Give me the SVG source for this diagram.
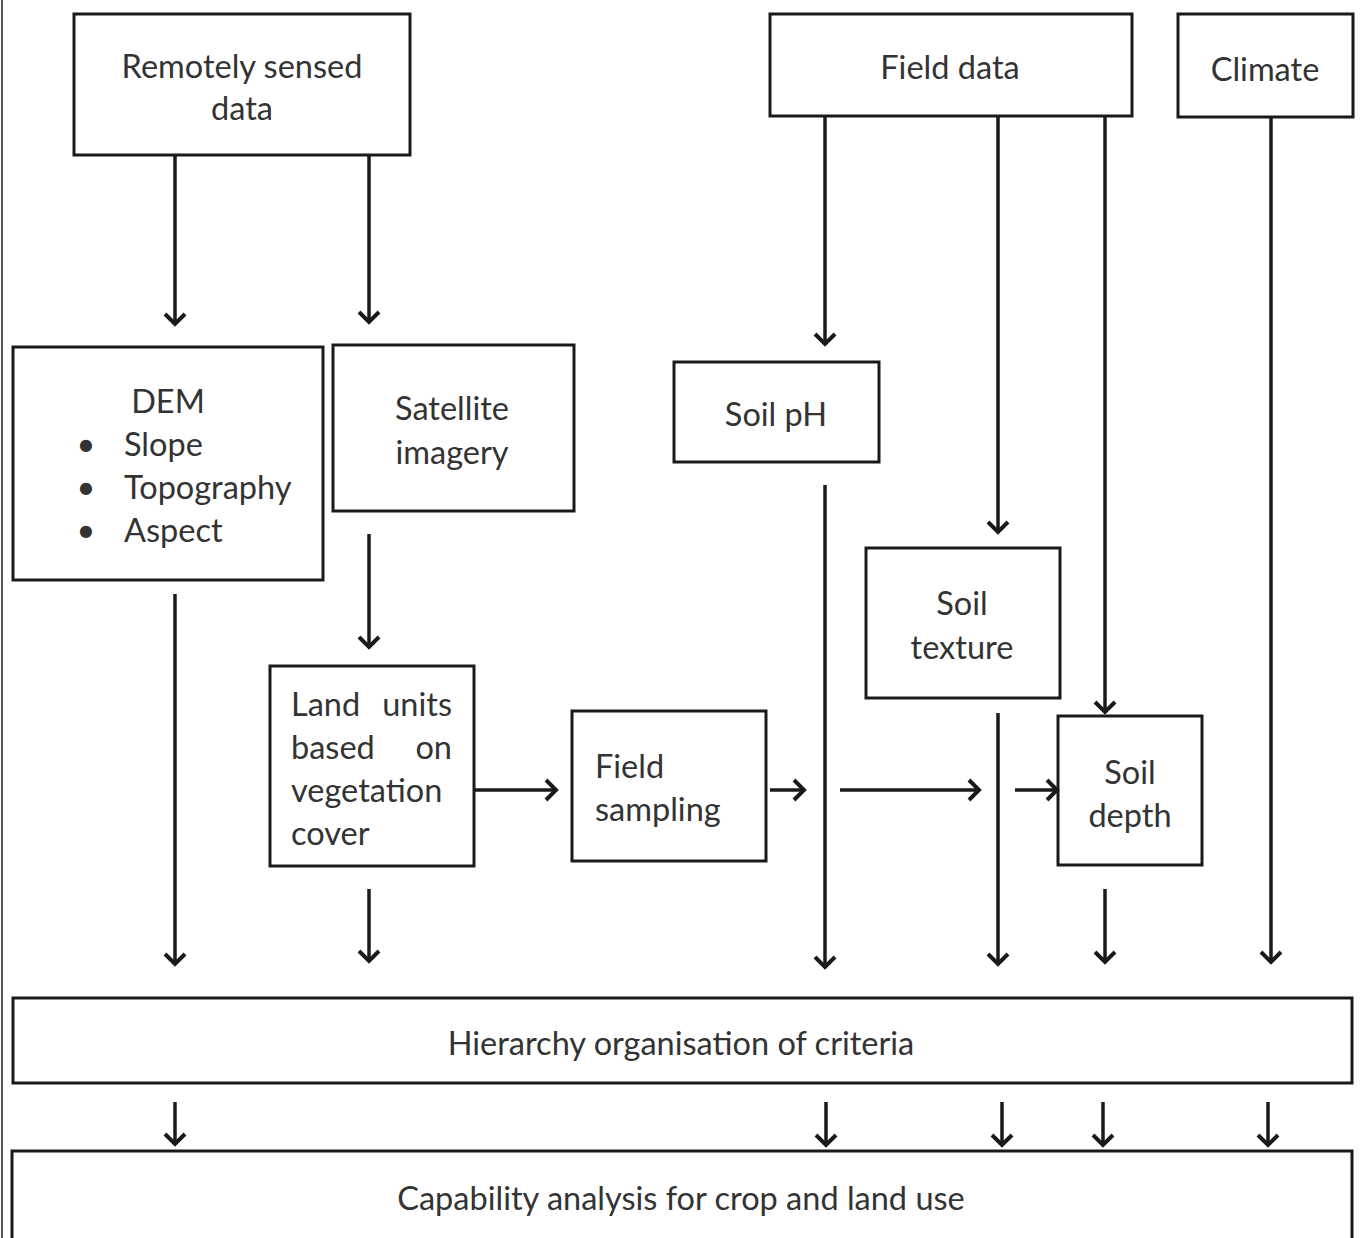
<svg xmlns="http://www.w3.org/2000/svg" width="1363" height="1238" viewBox="0 0 1363 1238">
<style>
.box{fill:#fff;stroke:#1a1a1a;stroke-width:3}
.t{font-family:Lato,"Open Sans",sans-serif;font-size:32.5px;fill:#333;text-anchor:middle;dominant-baseline:central}
.l{text-anchor:start}
.r{text-anchor:end}
.c{fill:none;stroke:#1a1a1a;stroke-width:3.5}
</style>
<defs>
<marker id="ah" markerWidth="26" markerHeight="26" refX="21" refY="13" orient="auto" markerUnits="userSpaceOnUse">
<path d="M10 3 L20 13 L10 23" fill="none" stroke="#1a1a1a" stroke-width="4"/>
</marker>
</defs>
<rect x="0" y="0" width="1363" height="1238" fill="#fff"/>
<line x1="2" y1="0" x2="2" y2="1238" stroke="#555" stroke-width="2"/>
<g id="remote"><rect class="box" x="74" y="14" width="336" height="141"/><text class="t" x="242" y="65">Remotely sensed</text><text class="t" x="242" y="107">data</text></g>
<g id="field"><rect class="box" x="770" y="14" width="362" height="102"/><text class="t" x="950" y="66">Field data</text></g>
<g id="climate"><rect class="box" x="1178" y="14" width="175" height="103"/><text class="t" x="1265" y="68">Climate</text></g>
<g id="dem"><rect class="box" x="13" y="347" width="310" height="233"/><text class="t" x="168" y="400">DEM</text>
<text class="t" x="86" y="443">•</text><text class="t l" x="124" y="443">Slope</text>
<text class="t" x="86" y="486">•</text><text class="t l" x="124" y="486">Topography</text>
<text class="t" x="86" y="529">•</text><text class="t l" x="124" y="529">Aspect</text></g>
<g id="sat"><rect class="box" x="333" y="345" width="241" height="166"/><text class="t" x="452" y="407">Satellite</text><text class="t" x="452" y="451">imagery</text></g>
<g id="ph"><rect class="box" x="674" y="362" width="205" height="100"/><text class="t" x="776" y="413">Soil pH</text></g>
<g id="texture"><rect class="box" x="866" y="548" width="194" height="150"/><text class="t" x="962" y="602">Soil</text><text class="t" x="962" y="646">texture</text></g>
<g id="depth"><rect class="box" x="1058" y="716" width="144" height="149"/><text class="t" x="1130" y="771">Soil</text><text class="t" x="1130" y="814">depth</text></g>
<g id="land"><rect class="box" x="270" y="666" width="204" height="200"/>
<text class="t l" x="291" y="703">Land</text><text class="t r" x="452" y="703">units</text>
<text class="t l" x="291" y="746">based</text><text class="t r" x="452" y="746">on</text>
<text class="t l" x="291" y="789">vegetation</text>
<text class="t l" x="291" y="832">cover</text></g>
<g id="sampling"><rect class="box" x="572" y="711" width="194" height="150"/><text class="t l" x="595" y="765">Field</text><text class="t l" x="595" y="808">sampling</text></g>
<g id="hier"><rect class="box" x="13" y="998" width="1339" height="85"/><text class="t" x="681" y="1042">Hierarchy organisation of criteria</text></g>
<g id="cap"><rect class="box" x="12" y="1151" width="1340" height="100"/><text class="t" x="681" y="1197">Capability analysis for crop and land use</text></g>
<g id="connectors" class="c">
<line x1="175" y1="155" x2="175" y2="325" marker-end="url(#ah)"/>
<line x1="369" y1="155" x2="369" y2="323" marker-end="url(#ah)"/>
<line x1="825" y1="116" x2="825" y2="345" marker-end="url(#ah)"/>
<line x1="998" y1="116" x2="998" y2="533" marker-end="url(#ah)"/>
<line x1="1105" y1="116" x2="1105" y2="713" marker-end="url(#ah)"/>
<line x1="1271" y1="117" x2="1271" y2="963" marker-end="url(#ah)"/>
<line x1="175" y1="594" x2="175" y2="965" marker-end="url(#ah)"/>
<line x1="369" y1="534" x2="369" y2="648" marker-end="url(#ah)"/>
<line x1="369" y1="889" x2="369" y2="962" marker-end="url(#ah)"/>
<line x1="825" y1="485" x2="825" y2="968" marker-end="url(#ah)"/>
<line x1="998" y1="713" x2="998" y2="965" marker-end="url(#ah)"/>
<line x1="1105" y1="889" x2="1105" y2="963" marker-end="url(#ah)"/>
<line x1="474" y1="790" x2="557" y2="790" marker-end="url(#ah)"/>
<line x1="770" y1="790" x2="805" y2="790" marker-end="url(#ah)"/>
<line x1="840" y1="790" x2="980" y2="790" marker-end="url(#ah)"/>
<line x1="1015" y1="790" x2="1058" y2="790" marker-end="url(#ah)"/>
<line x1="175" y1="1102" x2="175" y2="1145" marker-end="url(#ah)"/>
<line x1="826" y1="1102" x2="826" y2="1146" marker-end="url(#ah)"/>
<line x1="1002" y1="1102" x2="1002" y2="1146" marker-end="url(#ah)"/>
<line x1="1103" y1="1102" x2="1103" y2="1146" marker-end="url(#ah)"/>
<line x1="1268" y1="1102" x2="1268" y2="1146" marker-end="url(#ah)"/>
</g>
</svg>
